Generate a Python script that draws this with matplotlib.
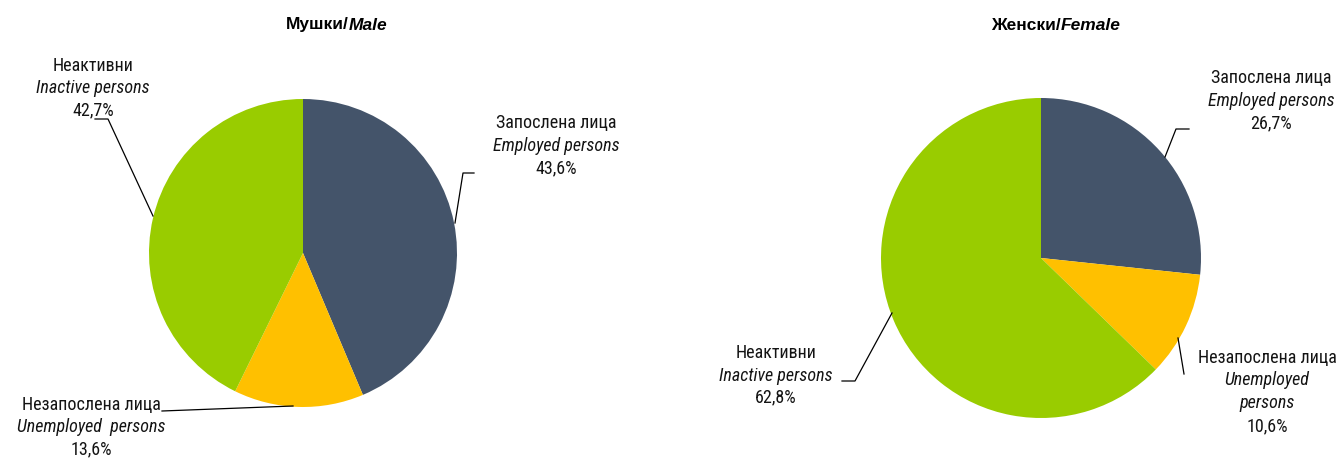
import matplotlib
matplotlib.use("Agg")
import matplotlib.pyplot as plt

# data
categories_mk = ["Запослена лица", "Незапослена лица", "Неактивни"]
categories_en = ["Employed persons", "Unemployed  persons", "Inactive persons"]
male = [43.6, 13.6, 42.7]
female = [26.7, 10.6, 62.8]
colors = ["#44546A", "#FFC000", "#99CC00"]

W, H = 1342, 459
fam = ["Roboto Condensed", "DejaVu Sans"]
tfam = ["Liberation Sans", "DejaVu Sans"]
fs = 13
tc = "#141414"

fig = plt.figure(figsize=(W / 100, H / 100), dpi=100)
ax = fig.add_axes([0, 0, 1, 1])


def Y(y):
    return H - y


def fmt(v):
    return ("%.1f%%" % v).replace(".", ",")


# pies
ax.pie(male, colors=colors, startangle=90, counterclock=False,
       center=(303, Y(253)), radius=154, frame=True)
ax.pie(female, colors=colors, startangle=90, counterclock=False,
       center=(1041, Y(258)), radius=160, frame=True)
ax.set_xlim(0, W)
ax.set_ylim(0, H)
ax.set_aspect("equal")
ax.axis("off")


def label(x, ys, lines):
    for y, (txt, it) in zip(ys, lines):
        ax.text(x, Y(y), txt, ha="center", va="center", fontsize=fs,
                family=fam, style="italic" if it else "normal", color=tc)


def leader(pts):
    ax.plot([p[0] for p in pts], [Y(p[1]) for p in pts], color="black", lw=0.9)


# male labels
label(556, [123, 146, 168], [(categories_mk[0], 0), (categories_en[0], 1), (fmt(male[0]), 0)])
leader([(455, 223), (463, 173), (474, 173)])
label(93, [66, 88, 110], [(categories_mk[2], 0), (categories_en[2], 1), (fmt(male[2]), 0)])
leader([(153, 216), (108, 119), (95, 119)])
label(91, [405, 427, 449], [(categories_mk[1], 0), (categories_en[1], 1), (fmt(male[1]), 0)])
leader([(293, 406), (162, 411)])

# female labels
label(1271, [78, 101, 123], [(categories_mk[0], 0), (categories_en[0], 1), (fmt(female[0]), 0)])
leader([(1165, 157), (1176, 129), (1189, 129)])
label(776, [353, 376, 397], [(categories_mk[2], 0), (categories_en[2], 1), (fmt(female[2]), 0)])
leader([(892, 313), (855, 381), (842, 381)])
label(1267, [358, 380, 403, 426], [(categories_mk[1], 0), ("Unemployed", 1),
                                   ("persons", 1), (fmt(female[1]), 0)])
leader([(1178, 338), (1184, 374)])


# titles: upright + italic part, centred together
def title(cx, a, b):
    t1 = ax.text(0, Y(25), a, ha="left", va="center", fontsize=12.5,
                 family=tfam, weight="bold", color="black")
    t2 = ax.text(0, Y(25), b, ha="left", va="center", fontsize=12.5,
                 family=tfam, weight="bold", style="italic", color="black")
    r = fig.canvas.get_renderer()
    w1 = t1.get_window_extent(r).width
    w2 = t2.get_window_extent(r).width
    x0 = cx - (w1 + w2) / 2
    t1.set_x(x0)
    t2.set_x(x0 + w1)


title(337, "Мушки/", "Male")
title(1056, "Женски/", "Female")

fig.savefig("out.png", dpi=100, facecolor="white")
